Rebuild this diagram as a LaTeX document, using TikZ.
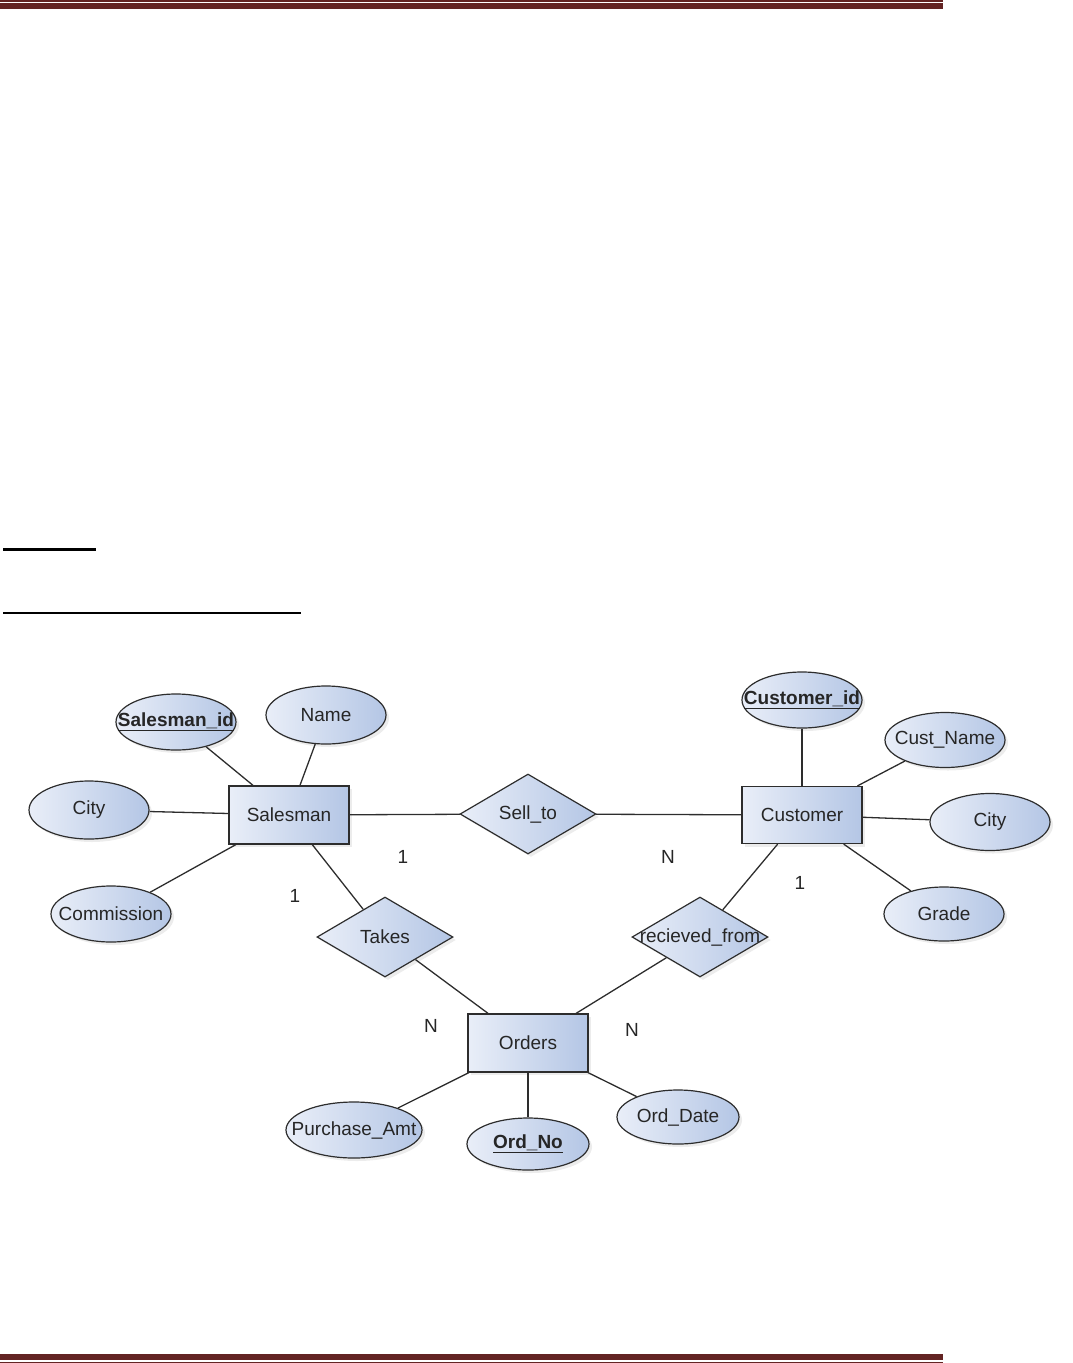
\documentclass[tikz,border=0pt]{standalone}
\usepackage{fontspec}
\setmainfont{Liberation Sans}
\usetikzlibrary{shapes.geometric,shadows}
\definecolor{barred}{RGB}{99,36,35}
\definecolor{shadelight}{RGB}{233,238,248}
\definecolor{shadedark}{RGB}{180,198,229}
\definecolor{edge}{RGB}{45,45,45}
\newcommand{\ovr}[1]{\makebox[0pt]{#1}}

\begin{document}
\begin{tikzpicture}[x=1pt,y=-1pt,font=\fontsize{19}{22}\selectfont,text=black!85,
  base/.style={draw=edge,line width=1.2pt,left color=shadelight,right color=shadedark,inner sep=0pt,
    drop shadow={opacity=0.15,shadow xshift=3pt,shadow yshift=-3pt}},
  ent/.style={base,rectangle,minimum width=120pt,minimum height=58pt},
  attr/.style={base,ellipse,minimum width=120pt,minimum height=56pt},
  rel/.style={base,diamond,minimum width=136pt,minimum height=80pt},
  card/.style={inner sep=0pt},
  conn/.style={draw=edge,line width=1.3pt}]
 \useasboundingbox (0,0) rectangle (1072,1363);
 % ---- page rules ----
 \fill[barred] (0,0) rectangle (943,1.7);
 \fill[barred] (0,3) rectangle (943,9);
 \fill[barred] (0,1354) rectangle (943,1360);
 \fill[barred] (0,1361.5) rectangle (943,1363);
 \fill (3,548) rectangle (96,551);
 \fill (3,612) rectangle (301,614);
 % ---- salesman side ----
 \node[attr] (sid) at (176,722) {\ovr{\underline{\textbf{Salesman\_id}}}};
 \node[attr,minimum height=58pt] (sname) at (326,715) {\ovr{Name}};
 \node[attr,minimum height=58pt] (scity) at (89,810) {\ovr{City}};
 \node[attr] (comm) at (111,914) {\ovr{Commission}};
 \node[ent] (sales) at (289,815) {Salesman};
 % ---- customer side ----
 \node[rel] (sell) at (528,814) {\ovr{Sell\_to}};
 \node[ent,minimum height=57pt] (cust) at (802,815) {Customer};
 \node[attr] (cid) at (802,700) {\ovr{\underline{\textbf{Customer\_id}}}};
 \node[attr,minimum height=55pt] (cname) at (945,740) {\ovr{Cust\_Name}};
 \node[attr,minimum height=57pt] (ccity) at (990,822) {\ovr{City}};
 \node[attr,minimum height=54pt] (grade) at (944,914) {\ovr{Grade}};
 % ---- orders ----
 \node[rel] (takes) at (385,937) {\ovr{Takes}};
 \node[rel] (recv) at (700,937) {\ovr{recieved\_from}};
 \node[ent] (ord) at (528,1043) {Orders};
 \node[attr,minimum width=136pt] (amt) at (354,1130) {\ovr{Purchase\_Amt}};
 \node[attr,minimum width=122pt,minimum height=52pt] (ono) at (528,1144) {\ovr{\underline{\textbf{Ord\_No}}}};
 \node[attr,minimum width=122pt,minimum height=54pt] (odate) at (678,1117) {\ovr{Ord\_Date}};
 % ---- cardinalities ----
 \node[card] (c1) at (403,857) {1};
 \node[card] (c2) at (668,857) {N};
 \node[card] (c3) at (295,896) {1};
 \node[card] (c4) at (800,883) {1};
 \node[card] (c5) at (431,1026) {N};
 \node[card] (c6) at (632,1030) {N};
 % ---- links ----
 \draw[conn] (sid) -- (sales);
 \draw[conn] (sname) -- (sales);
 \draw[conn] (scity) -- (sales);
 \draw[conn] (comm) -- (sales);
 \draw[conn] (sales) -- (sell);
 \draw[conn] (sell) -- (cust);
 \draw[conn] (cid) -- (cust);
 \draw[conn] (cname) -- (cust);
 \draw[conn] (ccity) -- (cust);
 \draw[conn] (grade) -- (cust);
 \draw[conn] (sales) -- (takes);
 \draw[conn] (takes) -- (ord);
 \draw[conn] (cust) -- (recv);
 \draw[conn] (recv) -- (ord);
 \draw[conn] (ord) -- (amt);
 \draw[conn] (ord) -- (ono);
 \draw[conn] (ord) -- (odate);
\end{tikzpicture}
\end{document}
